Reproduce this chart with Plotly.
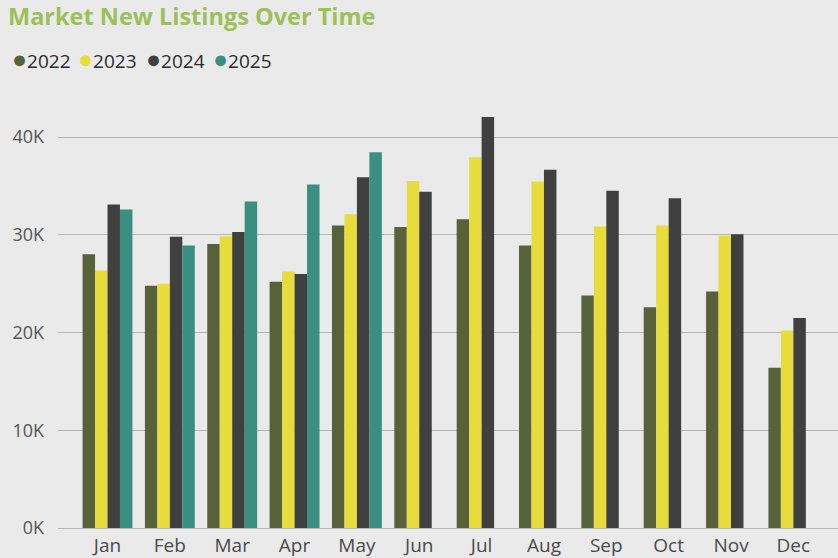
import plotly.graph_objects as go

months = ["Jan", "Feb", "Mar", "Apr", "May", "Jun", "Jul", "Aug", "Sep", "Oct", "Nov", "Dec"]
y2022 = [28000, 24800, 29050, 25200, 30950, 30800, 31600, 28900, 23800, 22600, 24200, 16400]
y2023 = [26350, 25000, 29850, 26250, 32100, 35500, 37950, 35450, 30850, 30950, 29900, 20200]
y2024 = [33100, 29800, 30300, 26000, 35900, 34400, 42050, 36650, 34500, 33750, 30050, 21500]
y2025 = [32600, 28900, 33400, 35150, 38450, None, None, None, None, None, None, None]

series_names = ["2022", "2023", "2024", "2025"]
series_values = [y2022, y2023, y2024, y2025]
series_colors = ["#58623A", "#E8DC3C", "#404040", "#3A8F80"]

y_ticks = [0, 10000, 20000, 30000, 40000]
y_tick_text = ["0K", "10K", "20K", "30K", "40K"]

W, H = 838, 558
ML, MR, MT, MB = 58, 0, 98, 30
PW, PH = W - ML - MR, H - MT - MB

fig = go.Figure()
for name, vals, col in zip(series_names, series_values, series_colors):
    fig.add_trace(go.Bar(x=months, y=vals, name=name,
                         marker=dict(color=col, line=dict(width=0)), showlegend=True))

# legend drawn as text entries (dot + year), positioned in pixels
legend_x = [10, 76, 144, 211]
legend_y = 58
annotations = []
for lx, name, col in zip(legend_x, series_names, series_colors):
    annotations.append(dict(
        text=f"<span style='color:{col};font-size:25px'>●</span>{name}",
        xref="paper", yref="paper", x=(lx - ML) / PW, y=1 + (MT - legend_y) / PH,
        xanchor="left", yanchor="middle", showarrow=False,
        font=dict(family="Open Sans", size=19, color="#2B2B2B")))

fig.update_layout(
    width=W, height=H,
    paper_bgcolor="#EAEAEA", plot_bgcolor="#EAEAEA",
    margin=dict(l=ML, r=MR, t=MT, b=MB),
    barmode="group", bargap=0.2, bargroupgap=0,
    showlegend=False,
    font=dict(family="Open Sans", color="#444444", size=17),
    title=dict(text="<b>Market New Listings Over Time</b>", x=8 / W, xanchor="left",
               xref="container", y=1 - 17 / H, yanchor="middle", yref="container",
               font=dict(family="Open Sans", size=23.5, color="#9DC05A")),
    annotations=annotations,
    xaxis=dict(range=[-0.794, 11.716], showgrid=False, tickfont=dict(size=19, color="#4A4A4A"),
               ticks="", showline=False, zeroline=False, ticklabelstandoff=4),
    yaxis=dict(range=[0, 44000], tickvals=y_ticks, ticktext=y_tick_text, showgrid=True,
               gridcolor="#B5B5B5", gridwidth=1.3, zeroline=True, zerolinecolor="#B5B5B5",
               zerolinewidth=1.3, ticks="", ticklabelstandoff=13,
               tickfont=dict(size=18, color="#555555")),
)

fig.write_html("out.html", config={"displayModeBar": False},
               post_script="document.body.style.margin='0';document.body.style.overflow='hidden';")
